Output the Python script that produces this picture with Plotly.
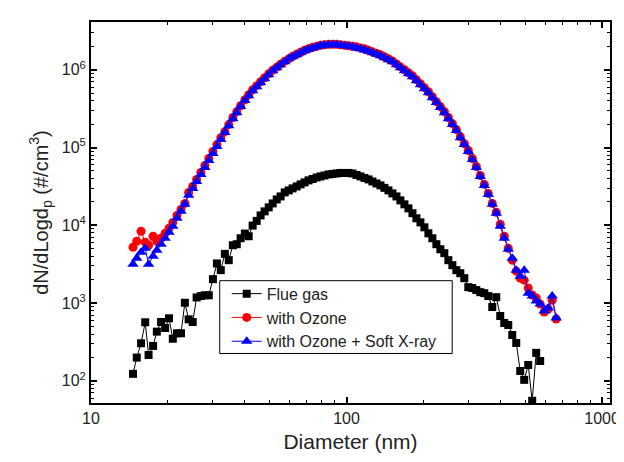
import plotly.graph_objects as go

# Mobility diameter channels (nm)
diameter = [14.6, 15.1, 15.7, 16.3, 16.8, 17.5, 18.1, 18.8, 19.5, 20.2,
            20.9, 21.7, 22.5, 23.3, 24.1, 25.0, 25.9, 26.9, 27.9, 28.9,
            30.0, 31.1, 32.2, 33.4, 34.6, 35.9, 37.2, 38.5, 40.0, 41.4,
            42.9, 44.5, 46.1, 47.8, 49.6, 51.4, 53.3, 55.2, 57.3, 59.4,
            61.5, 63.8, 66.1, 68.5, 71.0, 73.7, 76.4, 79.1, 82.0, 85.1,
            88.2, 91.4, 94.7, 98.2, 101.8, 105.5, 109.4, 113.4, 117.6, 121.9,
            126.3, 131.0, 135.8, 140.7, 145.9, 151.2, 156.8, 162.5, 168.5, 174.7,
            181.1, 187.7, 194.6, 201.7, 209.1, 216.7, 224.7, 232.9, 241.4, 250.3,
            259.5, 269.0, 278.8, 289.0, 299.6, 310.6, 322.0, 333.8, 346.0, 358.7,
            371.8, 385.4, 399.5, 414.2, 429.4, 445.1, 461.4, 478.3, 495.8, 514.0,
            532.8, 552.3, 572.5, 593.5, 615.3, 637.8, 661.2]

flue_gas = [123, 199, 304, 566, 215, 281, 429, 571, 478, 637,
            348, 409, 409, 1010, 618, 571, 1180, 1230, 1260, 1260,
            2030, 3230, 2650, 4290, 3560, 5540, 5710, 6810, 7830, 7230,
            9910, 11400, 13400, 15100, 17000, 19100, 21500, 23500, 26500, 28100,
            29800, 31600, 33600, 35600, 37800, 39400, 41200, 42500, 43700, 45100,
            45800, 46400, 47100, 47100, 47100, 46400, 44400, 42500, 40600, 38900,
            36600, 34500, 32600, 30300, 28100, 25700, 23500, 20900, 18600, 16500,
            14300, 12300, 10900, 9420, 7890, 6810, 5710, 4920, 4380, 3560,
            3070, 2650, 2420, 2090, 1600, 1560, 1470, 1380, 1340, 1230,
            889, 1190, 682, 554, 522, 389, 307, 134, 103, 160,
            55.4, 229, 180]

with_ozone = [5220, 6240, 8380, 6050, 5540, 7230, 6240, 6810, 7890, 9150,
              10900, 13400, 16000, 19100, 26500, 31600, 38900, 47800, 58800, 72300,
              88900, 109000, 134000, 160000, 197000, 243000, 290000, 345000, 412000, 478000,
              554000, 624000, 702000, 789000, 889000, 986000, 1080000, 1180000, 1290000, 1380000,
              1490000, 1580000, 1680000, 1780000, 1860000, 1940000, 2000000, 2060000, 2090000, 2120000,
              2120000, 2120000, 2090000, 2060000, 2030000, 2000000, 1970000, 1910000, 1860000, 1780000,
              1700000, 1630000, 1560000, 1470000, 1380000, 1300000, 1190000, 1090000, 1000000, 915000,
              837000, 745000, 662000, 588000, 522000, 451000, 389000, 336000, 290000, 243000,
              203000, 170000, 138000, 112000, 91500, 72300, 57000, 43700, 33600, 25700,
              19100, 14700, 10300, 7230, 5070, 3560, 2570, 2090, 1970, 1560,
              1270, 1160, 971, 767, 838, 1090, 624]

with_ozone_xray = [3160, 3780, 4510, 5070, 3160, 4010, 4780, 5710, 6810, 8130,
                   9710, 12300, 15100, 18600, 24300, 29800, 36600, 45100, 55400, 68100,
                   83800, 103000, 127000, 156000, 191000, 235000, 281000, 336000, 401000, 464000,
                   538000, 605000, 681000, 767000, 863000, 971000, 1060000, 1160000, 1270000, 1380000,
                   1470000, 1560000, 1650000, 1750000, 1830000, 1910000, 1970000, 2030000, 2060000, 2090000,
                   2090000, 2090000, 2060000, 2030000, 2000000, 1970000, 1910000, 1860000, 1800000, 1730000,
                   1650000, 1580000, 1510000, 1430000, 1340000, 1270000, 1160000, 1060000, 971000, 889000,
                   813000, 723000, 642000, 571000, 507000, 438000, 378000, 326000, 281000, 235000,
                   197000, 165000, 134000, 109000, 88900, 70200, 55400, 42500, 32600, 24900,
                   18600, 14300, 9710, 6810, 4920, 3780, 2650, 2220, 2650, 1340,
                   1230, 1060, 971, 789, 863, 1230, 643]

x_tickvals = [10, 100, 1000]
x_ticktext = ["10", "100", "1000"]
y_tickvals = [1e2, 1e3, 1e4, 1e5, 1e6]
y_ticktext = ["10<sup>2</sup>", "10<sup>3</sup>", "10<sup>4</sup>", "10<sup>5</sup>", "10<sup>6</sup>"]

FONT = "Liberation Sans, Arial, sans-serif"

fig = go.Figure()
fig.add_trace(go.Scatter(
    x=diameter[:len(flue_gas)], y=flue_gas, name="Flue gas", mode="lines+markers",
    line=dict(color="#000000", width=1),
    marker=dict(symbol="square", size=8, color="#000000")))
fig.add_trace(go.Scatter(
    x=diameter[:len(with_ozone)], y=with_ozone, name="with Ozone", mode="lines+markers",
    line=dict(color="#ff0000", width=1),
    marker=dict(symbol="circle", size=9, color="#ff0000")))
fig.add_trace(go.Scatter(
    x=diameter[:len(with_ozone_xray)], y=with_ozone_xray, name="with Ozone + Soft X-ray",
    mode="lines+markers",
    line=dict(color="#0000ff", width=1),
    marker=dict(symbol="triangle-up", size=10, color="#0000ff")))

axis_common = dict(
    type="log", showline=True, linecolor="black", linewidth=2, mirror="ticks",
    ticks="inside", ticklen=6, tickwidth=1.5, tickcolor="black",
    showgrid=False, zeroline=False,
    tickfont=dict(family=FONT, size=16, color="#222222"),
    minor=dict(ticks="inside", ticklen=3, tickwidth=1, tickcolor="black", dtick="D1", showgrid=False),
)

fig.update_layout(
    width=624, height=462,
    margin=dict(l=83, r=21, t=12, b=67),
    paper_bgcolor="white", plot_bgcolor="white",
    font=dict(family=FONT, color="#222222"),
    xaxis=dict(axis_common, range=[1, 3.031], tickvals=x_tickvals, ticktext=x_ticktext,
               title=dict(text="Diameter (nm)", font=dict(family=FONT, size=21), standoff=8)),
    yaxis=dict(axis_common, range=[1.715, 6.614], tickvals=y_tickvals, ticktext=y_ticktext,
               title=dict(text="dN/dLogd<sub>p</sub> (#/cm<sup>3</sup>)", font=dict(family=FONT, size=20), standoff=8)),
    legend=dict(x=0.2615, y=0.3314, xanchor="left", yanchor="top",
                bgcolor="rgba(0,0,0,0)", borderwidth=0,
                font=dict(family=FONT, size=16, color="#222222"),
                tracegroupgap=0, itemwidth=30),
    shapes=[dict(type="rect", xref="paper", yref="paper",
                 x0=0.248, x1=0.696, y0=0.130, y1=0.321,
                 line=dict(color="black", width=1), fillcolor="white", layer="above")],
    showlegend=True,
)

fig.write_html("out.html")
